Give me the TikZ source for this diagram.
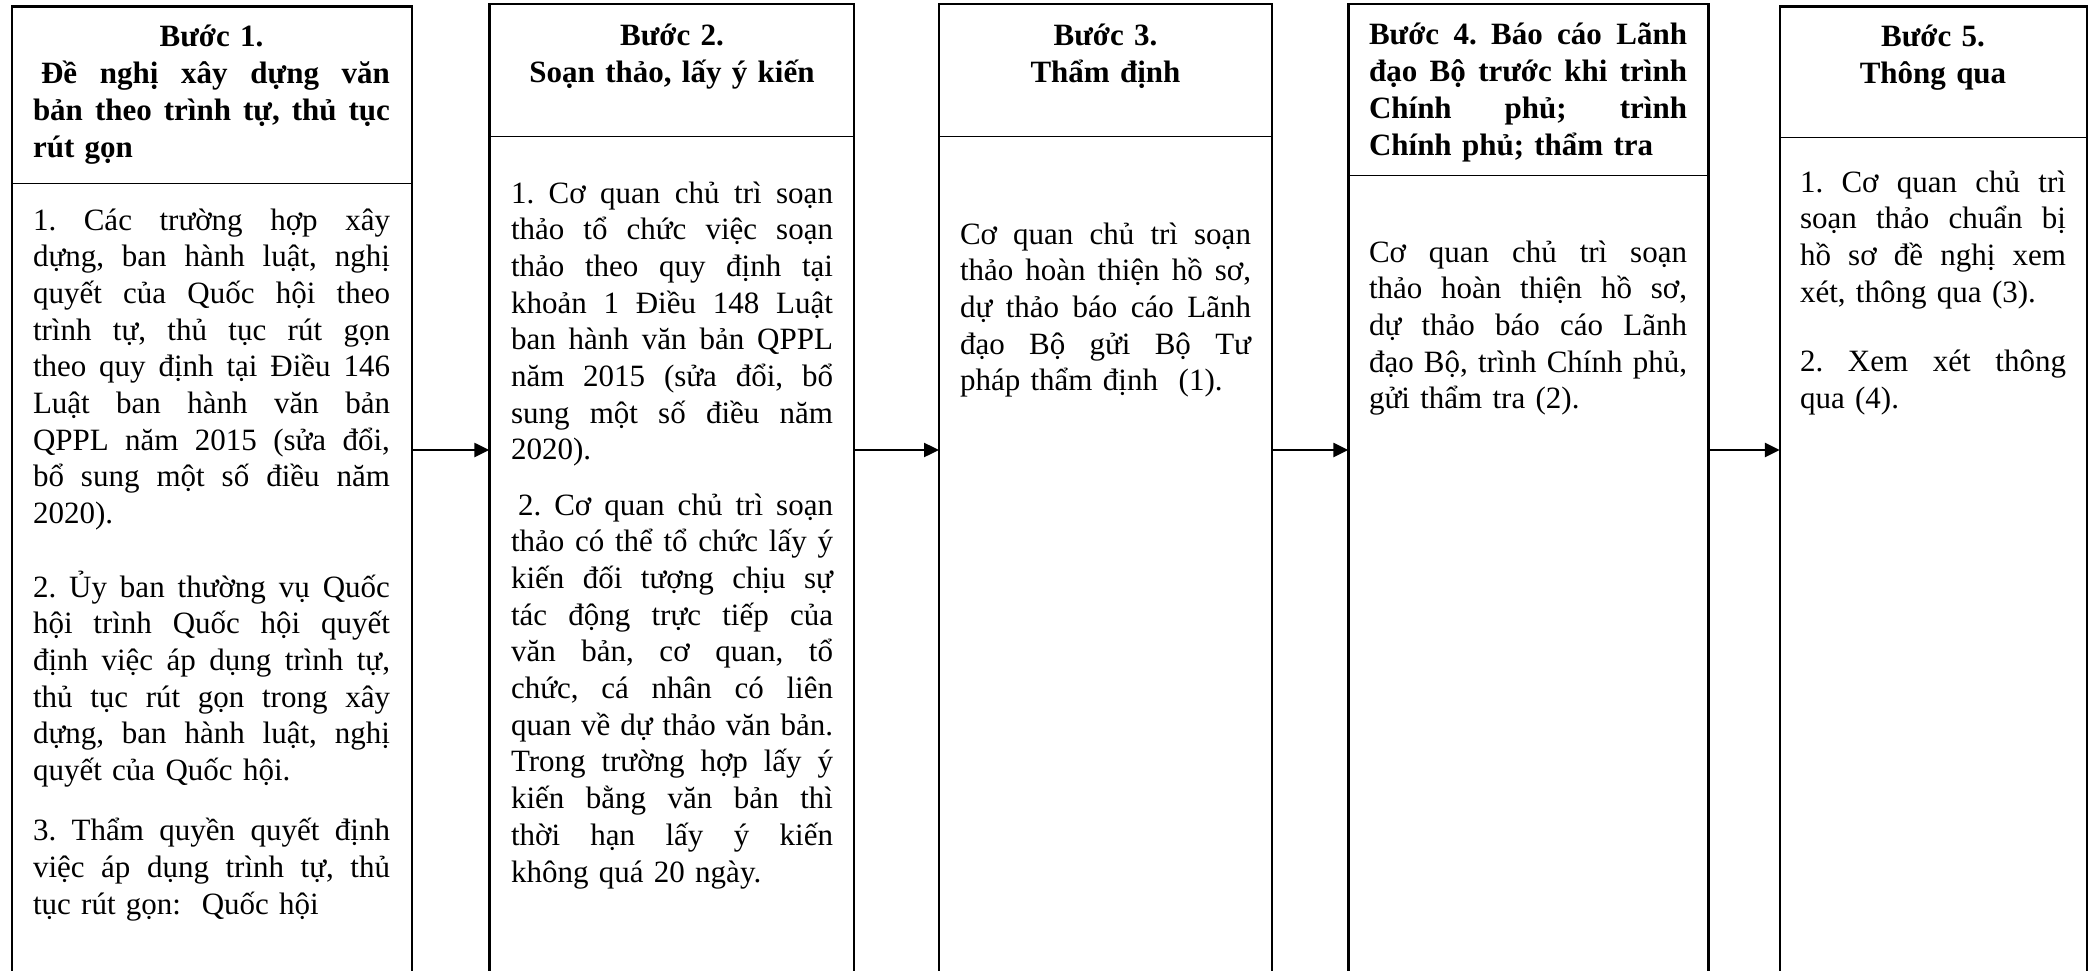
\documentclass[tikz,border=0pt]{standalone}
\usepackage{fontspec}
\setmainfont{Liberation Serif}
\usetikzlibrary{arrows.meta}
\newcommand\tstrut{\rule{0pt}{32pt}}
\newcommand\jline[1]{\leavevmode\hbox to\linewidth{\spaceskip=0.25em plus 1fil minus 0.05em\relax #1}}
\newcommand\ctrline[1]{\makebox[\linewidth]{#1}}
\newcommand\mysetup{\lineskiplimit=-20pt\relax\frenchspacing}
\begin{document}
\begin{tikzpicture}[x=1pt,y=-1pt,
  box/.style={draw, line width=2.6pt, rectangle, outer sep=0pt, inner sep=0pt, anchor=north west, minimum height=1100pt},
  divider/.style={line width=1.3pt},
  txt/.style={inner sep=0pt, outer sep=0pt, anchor=north west,
    font=\fontsize{31}{36.7}\selectfont, execute at begin node=\mysetup},
  head/.style={txt, font=\fontsize{31}{36.7}\selectfont\bfseries},
  arr/.style={line width=2.4pt, -{Triangle[length=15pt,width=14pt]}}]
\useasboundingbox (0,0) rectangle (2090,971);
\clip (0,0) rectangle (2090,971);

% boxes (open at the bottom: bottom side lies outside the picture)
\node[box, minimum width=400pt] (box1) at (12,6.5) {};
\node[box, minimum width=364.7pt] (box2) at (489.3,4) {};
\node[box, minimum width=333pt] (box3) at (939,4) {};
\node[box, minimum width=360pt] (box4) at (1348.3,4) {};
\node[box, minimum width=307.2pt] (box5) at (1779.8,6.5) {};

% header dividers
\draw[divider] (box1.west |- 0,183.3) -- (box1.east |- 0,183.3);
\draw[divider] (box2.west |- 0,136.7) -- (box2.east |- 0,136.7);
\draw[divider] (box3.west |- 0,136.7) -- (box3.east |- 0,136.7);
\draw[divider] (box4.west |- 0,175.7) -- (box4.east |- 0,175.7);
\draw[divider] (box5.west |- 0,137.5) -- (box5.east |- 0,137.5);

% arrows
\coordinate (ay) at (0,450);
\draw[arr] (box1.east |- ay) -- (box2.west |- ay);
\draw[arr] (box2.east |- ay) -- (box3.west |- ay);
\draw[arr] (box3.east |- ay) -- (box4.west |- ay);
\draw[arr] (box4.east |- ay) -- (box5.west |- ay);

% Step 1
\node[head, text width=357pt] (h1) at (33,15) {\tstrut\ctrline{Bước 1.}\\
\jline{\hspace{8pt}Đề nghị xây dựng văn}\\
\jline{bản theo trình tự, thủ tục}\\
rút gọn};
\node[txt, text width=357pt] (b1) at (33,198) {\tstrut\jline{1. Các trường hợp xây}\\
\jline{dựng, ban hành luật, nghị}\\
\jline{quyết của Quốc hội theo}\\
\jline{trình tự, thủ tục rút gọn}\\
\jline{theo quy định tại Điều 146}\\
\jline{Luật ban hành văn bản}\\
\jline{QPPL năm 2015 (sửa đổi,}\\
\jline{bổ sung một số điều năm}\\
2020).\\[36.7pt]
\jline{2. Ủy ban thường vụ Quốc}\\
\jline{hội trình Quốc hội quyết}\\
\jline{định việc áp dụng trình tự,}\\
\jline{thủ tục rút gọn trong xây}\\
\jline{dựng, ban hành luật, nghị}\\
quyết của Quốc hội.\\[23.4pt]
\jline{3. Thẩm quyền quyết định}\\
\jline{việc áp dụng trình tự, thủ}\\
tục rút gọn:\ \ Quốc hội};

% Step 2
\node[head, text width=322pt] (h2) at (511,14) {\tstrut\ctrline{Bước 2.}\\
\ctrline{Soạn thảo, lấy ý kiến}};
\node[txt, text width=322pt] (b2) at (511,171) {\tstrut\jline{1. Cơ quan chủ trì soạn}\\
\jline{thảo tổ chức việc soạn}\\
\jline{thảo theo quy định tại}\\
\jline{khoản 1 Điều 148 Luật}\\
\jline{ban hành văn bản QPPL}\\
\jline{năm 2015 (sửa đổi, bổ}\\
\jline{sung một số điều năm}\\
2020).\\[18.4pt]
\jline{\hspace{7pt}2. Cơ quan chủ trì soạn}\\
\jline{thảo có thể tổ chức lấy ý}\\
\jline{kiến đối tượng chịu sự}\\
\jline{tác động trực tiếp của}\\
\jline{văn bản, cơ quan, tổ}\\
\jline{chức, cá nhân có liên}\\
\jline{quan về dự thảo văn bản.}\\
\jline{Trong trường hợp lấy ý}\\
\jline{kiến bằng văn bản thì}\\
\jline{thời hạn lấy ý kiến}\\
không quá 20 ngày.};

% Step 3
\node[head, text width=291pt] (h3) at (960,14) {\tstrut\ctrline{Bước 3.}\\
\ctrline{Thẩm định}};
\node[txt, text width=291pt] (b3) at (960,212) {\tstrut\jline{Cơ quan chủ trì soạn}\\
\jline{thảo hoàn thiện hồ sơ,}\\
\jline{dự thảo báo cáo Lãnh}\\
\jline{đạo Bộ gửi Bộ Tư}\\
pháp thẩm định\ \ (1).};

% Step 4
\node[head, text width=318pt] (h4) at (1369,13) {\tstrut\jline{Bước 4. Báo cáo Lãnh}\\
\jline{đạo Bộ trước khi trình}\\
\jline{Chính phủ; trình}\\
Chính phủ; thẩm tra};
\node[txt, text width=318pt] (b4) at (1369,230) {\tstrut\jline{Cơ quan chủ trì soạn}\\
\jline{thảo hoàn thiện hồ sơ,}\\
\jline{dự thảo báo cáo Lãnh}\\
\jline{đạo Bộ, trình Chính phủ,}\\
gửi thẩm tra (2).};

% Step 5
\node[head, text width=266pt] (h5) at (1800,15) {\tstrut\ctrline{Bước 5.}\\
\ctrline{Thông qua}};
\node[txt, text width=266pt] (b5) at (1800,160) {\tstrut\jline{1. Cơ quan chủ trì}\\
\jline{soạn thảo chuẩn bị}\\
\jline{hồ sơ đề nghị xem}\\
xét, thông qua (3).\\[33pt]
\jline{2. Xem xét thông}\\
qua (4).};
\end{tikzpicture}
\end{document}
